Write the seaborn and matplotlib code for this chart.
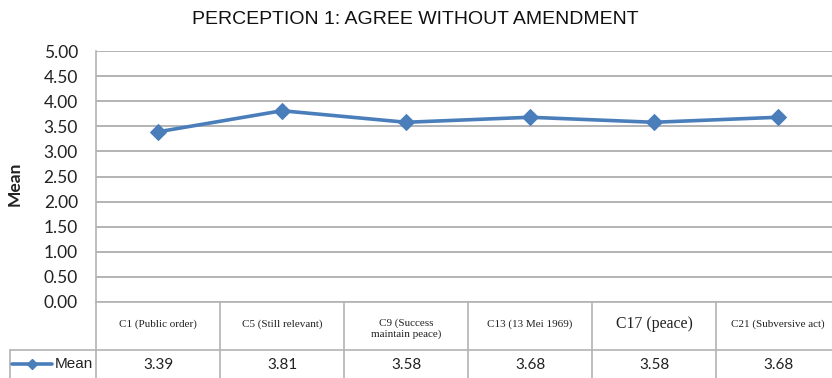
import matplotlib
matplotlib.use("Agg")
import matplotlib.pyplot as plt
import matplotlib.transforms as mtransforms
from matplotlib.lines import Line2D
from matplotlib import font_manager
import seaborn as sns
import pandas as pd

# Items and their mean scores
items = ["C1 (Public order)", "C5 (Still relevant)", "C9 (Success\nmaintain peace)",
         "C13 (13 Mei 1969)", "C17 (peace)", "C21 (Subversive act)"]
means = [3.39, 3.81, 3.58, 3.68, 3.58, 3.68]
value_labels = ["3.39", "3.81", "3.58", "3.68", "3.58", "3.68"]
y_ticks = [0.0, 0.5, 1.0, 1.5, 2.0, 2.5, 3.0, 3.5, 4.0, 4.5, 5.0]
series_name = "Mean"
title = "PERCEPTION 1: AGREE WITHOUT AMENDMENT"

sns.set_style("white")
installed = {f.name for f in font_manager.fontManager.ttflist}
narrow = "Liberation Sans Narrow" if "Liberation Sans Narrow" in installed else "Liberation Sans"

W, H = 832, 378
fig = plt.figure(figsize=(W / 100, H / 100), dpi=100)

# plot area in pixels
left_px, right_px, top_px, bottom_px = 96, 840, 51, 302
ax = fig.add_axes([left_px / W, 1 - bottom_px / H,
                   (right_px - left_px) / W, (bottom_px - top_px) / H])

df = pd.DataFrame({"item": range(len(items)), "mean": means})
blue = "#4a7ebb"
grid_c = "#b3b3b3"
sns.lineplot(data=df, x="item", y="mean", ax=ax, color=blue, linewidth=2.6,
             marker="D", markersize=8, markeredgecolor=blue, zorder=3)

ax.set_xlim(-0.5, len(items) - 0.5)
ax.set_ylim(0, 5)
ax.set_yticks(y_ticks)
ax.set_yticklabels([f"{v:.2f}" for v in y_ticks], fontsize=12.5, family="Lato",
                   color="#222222")
ax.tick_params(axis="y", length=0, pad=13)
ax.set_xticks([])
ax.set_xlabel("")
ax.set_ylabel("")
ax.grid(axis="y", color=grid_c, linewidth=1.4)
ax.set_axisbelow(True)
for s in ["top", "right", "bottom"]:
    ax.spines[s].set_visible(False)
ax.spines["left"].set_color(grid_c)
ax.spines["left"].set_linewidth(1.2)

fig.text(15 / W, 1 - 184 / H, "Mean", rotation=90, ha="center", va="center",
         fontsize=12.5, fontweight="bold", family="Lato", color="#222222")
fig.text(415 / W, 1 - 19 / H, title, ha="center", va="center",
         fontsize=14, family=narrow, color="#111111")

# data table under the plot: x in data units, y in pixels from the top
ph = bottom_px - top_px
def yax(px):
    return (bottom_px - px) / ph

trans = mtransforms.blended_transform_factory(ax.transData, ax.transAxes)
row_line = 350
for i in range(len(items) + 1):
    xb = i - 0.5
    ax.add_line(Line2D([xb, xb], [yax(302), yax(380)], transform=trans,
                       color=grid_c, linewidth=1.2, clip_on=False))
ax.add_line(Line2D([-0.5, len(items)], [yax(302), yax(302)], transform=trans,
                   color=grid_c, linewidth=1.2, clip_on=False))
# row divider runs across the legend cell too
fig.add_artist(Line2D([10 / W, 1], [1 - row_line / H, 1 - row_line / H],
                      color=grid_c, linewidth=1.2))
fig.add_artist(Line2D([10 / W, 10 / W], [1 - row_line / H, 0],
                      color=grid_c, linewidth=1.2))

for i, (lab, val) in enumerate(zip(items, value_labels)):
    fs = 11.3 if lab.startswith("C17") else 8.0
    yy = 324 if "\n" not in lab else 329
    ax.text(i, yax(yy), lab, transform=trans, ha="center", va="center",
            fontsize=fs, family="Liberation Serif", color="#222222",
            linespacing=1.15, clip_on=False)
    ax.text(i, yax(365), val, transform=trans, ha="center", va="center",
            fontsize=11, family="Lato", color="#222222", clip_on=False)

# legend key inside the table
fig.add_artist(Line2D([12 / W, 52 / W], [1 - 364 / H, 1 - 364 / H], color=blue,
                      linewidth=2.6))
fig.add_artist(Line2D([32 / W], [1 - 364 / H], color=blue, marker="D",
                      markersize=5, linestyle="none"))
fig.text(55 / W, 1 - 364 / H, series_name, ha="left", va="center", fontsize=11,
         family="Liberation Sans", color="#222222")

fig.savefig("out.png", dpi=100)
